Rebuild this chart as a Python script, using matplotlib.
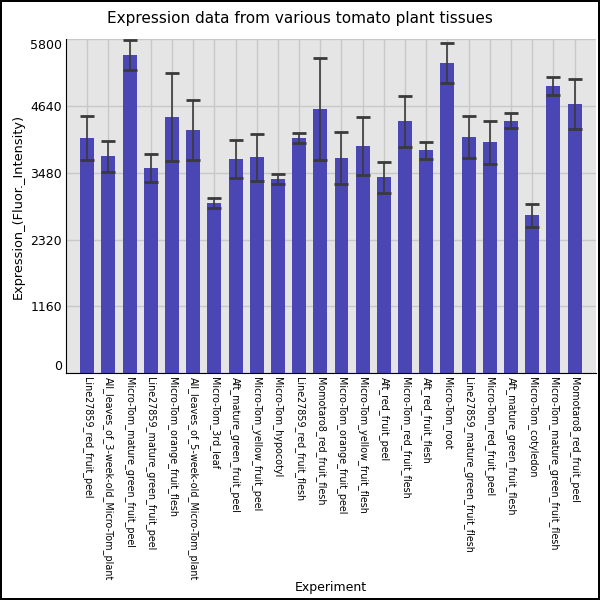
import numpy as np
import matplotlib
matplotlib.use("Agg")
import matplotlib.pyplot as plt

# tissue names and mean expression
tissues = ["Line27859_red_fruit_peel", "All_leaves_of_3-week-old_Micro-Tom_plant",
           "Micro-Tom_mature_green_fruit_peel", "Line27859_mature_green_fruit_peel",
           "Micro-Tom_orange_fruit_flesh", "All_leaves_of_5-week-old_Micro-Tom_plant",
           "Micro-Tom_3rd_leaf", "Aft_mature_green_fruit_peel",
           "Micro-Tom_yellow_fruit_peel", "Micro-Tom_hypocotyl",
           "Line27859_red_fruit_flesh", "Momotaro8_red_fruit_flesh",
           "Micro-Tom_orange_fruit_peel", "Micro-Tom_yellow_fruit_flesh",
           "Aft_red_fruit_peel", "Micro-Tom_red_fruit_flesh",
           "Aft_red_fruit_flesh", "Micro-Tom_root",
           "Line27859_mature_green_fruit_flesh", "Micro-Tom_red_fruit_peel",
           "Aft_mature_green_fruit_flesh", "Micro-Tom_cotyledon",
           "Micro-Tom_mature_green_fruit_flesh", "Momotaro8_red_fruit_peel"]
expr = [4080, 3767, 5522, 3558, 4445, 4219, 2950, 3715, 3749, 3367, 4080, 4584,
        3732, 3941, 3402, 4376, 3871, 5383, 4097, 4010, 4381, 2741, 4983, 4671]
err = [380, 267, 252, 240, 765, 518, 90, 327, 410, 87, 92, 884,
       455, 507, 266, 443, 145, 348, 362, 372, 133, 197, 154, 432]
yticks = [0, 1160, 2320, 3480, 4640, 5800]

fig = plt.figure(figsize=(6, 6), dpi=100)
fig.patch.set_edgecolor("black")
fig.patch.set_linewidth(1.5)
ax = fig.add_axes([0.11, 0.378, 0.883, 0.557])
ax.set_facecolor("#e5e5e5")

x = np.arange(len(tissues))
ax.bar(x, expr, width=0.66, color="#4a46b3", zorder=2)
ax.errorbar(x, expr, yerr=err, fmt="none", ecolor="#3a3a3a", elinewidth=1.2,
            capsize=5, capthick=2, zorder=3)

ax.set_xlim(-1, len(tissues))
ax.set_ylim(0, 5800)
ax.set_yticks(yticks)
ax.set_xticks(x)
ax.set_xticklabels(tissues, rotation=-90, fontsize=6.9)
ax.tick_params(axis="both", length=0, pad=3)
ax.tick_params(axis="y", labelsize=9)
# end labels sit inside the axis range
ylabels = ax.get_yticklabels()
ylabels[0].set_va("bottom")
ylabels[-1].set_va("top")
ax.grid(True, color="#c8c8c8", linewidth=1, zorder=0)
ax.set_axisbelow(True)
for s in ["top", "right"]:
    ax.spines[s].set_visible(False)

ax.set_ylabel("Expression_(Fluor._Intensity)", fontsize=9.3)
ax.set_xlabel("Experiment", fontsize=9, labelpad=0)
fig.suptitle("Expression data from various tomato plant tissues", fontsize=11, y=0.982)

fig.savefig("out.png", dpi=100, edgecolor=fig.get_edgecolor())
